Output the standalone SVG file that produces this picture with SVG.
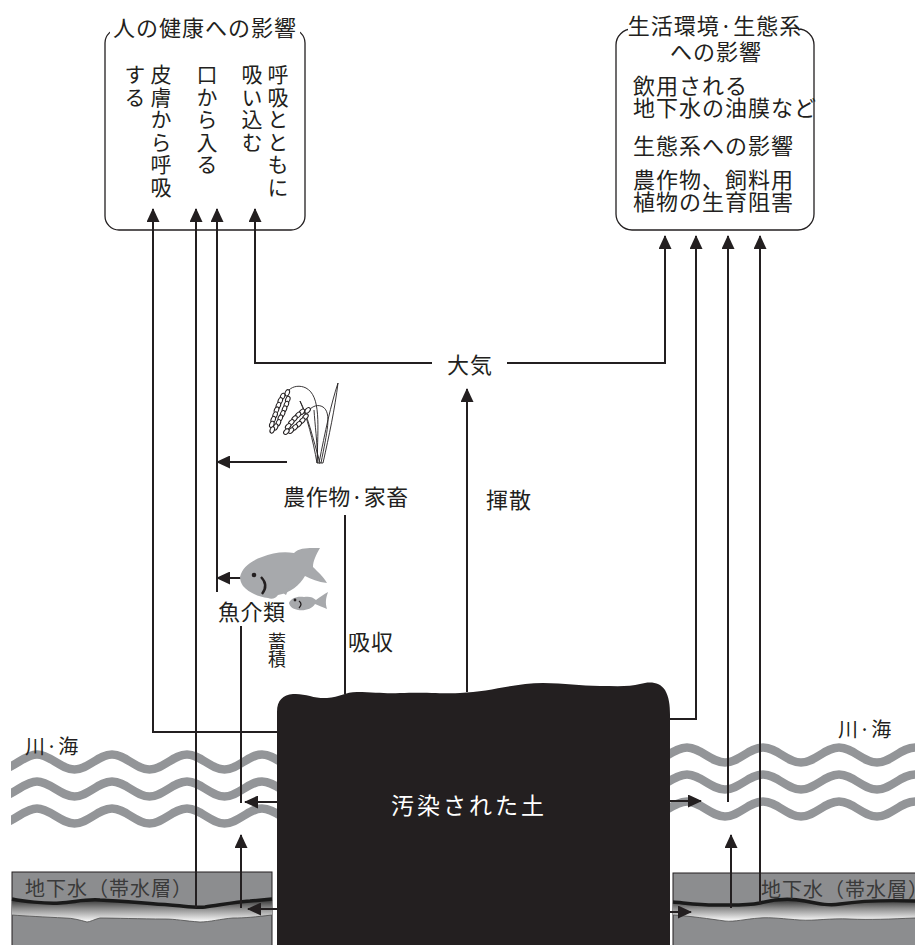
<svg xmlns="http://www.w3.org/2000/svg" width="915" height="945" viewBox="0 0 915 945">
  <style>
    text { font-family: "Noto Sans CJK JP", "Noto Sans", sans-serif; fill: #231f20; }
    .lbl { font-size: 22px; letter-spacing: 1px; }
    .vert { font-size: 21px; letter-spacing: 1.5px; writing-mode: vertical-rl; }
    .gw { font-size: 20px; fill: #3a3a3a; letter-spacing: 1px; }
    .box { fill: #fff; stroke: #231f20; stroke-width: 1.3; }
    .conn { fill: none; stroke: #231f20; stroke-width: 2; }
    .wave { fill: none; stroke: #939598; stroke-width: 8.5; }
    .aquifer { fill: #8c8d8f; stroke: #231f20; stroke-width: 1; }
    .fish { fill: #a7a9ac; }
  </style>
  <defs>
    <marker id="ah" viewBox="0 0 14 13" refX="13" refY="6.5" markerWidth="14" markerHeight="13" markerUnits="userSpaceOnUse" orient="auto">
      <path d="M0,0 L14,6.5 L0,13 z" fill="#231f20"/>
    </marker>
    <linearGradient id="band" x1="0" y1="0" x2="0" y2="1">
      <stop offset="0" stop-color="#2e2e2e"/>
      <stop offset="0.4" stop-color="#8a8a8a"/>
      <stop offset="1" stop-color="#ffffff"/>
    </linearGradient>
    <clipPath id="leftWater"><rect x="11" y="700" width="275" height="140"/></clipPath>
    <clipPath id="rightWater"><rect x="660" y="700" width="255" height="140"/></clipPath>
    <ellipse id="grain" rx="2.1" ry="3.3" fill="#fff" stroke="#231f20" stroke-width="1"/>
  </defs>

  <!-- river / sea waves -->
  <g id="river-left" clip-path="url(#leftWater)">
    <path class="wave" d="M-0.5,769.5 C13.2,769.5 23.8,754.5 37,754.5 S60.8,769.5 74.5,769.5 S98.3,754.5 112,754.5 S135.8,769.5 149.5,769.5 S173.3,754.5 187,754.5 S210.8,769.5 224.5,769.5 S248.3,754.5 262,754.5 S285.8,769.5 299.5,769.5"/>
    <path class="wave" d="M-0.5,796.5 C13.2,796.5 23.8,781.5 37,781.5 S60.8,796.5 74.5,796.5 S98.3,781.5 112,781.5 S135.8,796.5 149.5,796.5 S173.3,781.5 187,781.5 S210.8,796.5 224.5,796.5 S248.3,781.5 262,781.5 S285.8,796.5 299.5,796.5"/>
    <path class="wave" d="M-0.5,823.5 C13.2,823.5 23.8,808.5 37,808.5 S60.8,823.5 74.5,823.5 S98.3,808.5 112,808.5 S135.8,823.5 149.5,823.5 S173.3,808.5 187,808.5 S210.8,823.5 224.5,823.5 S248.3,808.5 262,808.5 S285.8,823.5 299.5,823.5"/>
  </g>
  <g id="river-right" clip-path="url(#rightWater)">
    <path class="wave" d="M649,762.5 C662.7,762.5 673.3,747.5 687,747.5 S710.8,762.5 725,762.5 S748.8,747.5 763,747.5 S786.8,762.5 801,762.5 S824.8,747.5 839,747.5 S862.8,762.5 877,762.5 S900.8,747.5 915,747.5 S938.8,762.5 953,762.5"/>
    <path class="wave" d="M649,789.5 C662.7,789.5 673.3,774.5 687,774.5 S710.8,789.5 725,789.5 S748.8,774.5 763,774.5 S786.8,789.5 801,789.5 S824.8,774.5 839,774.5 S862.8,789.5 877,789.5 S900.8,774.5 915,774.5 S938.8,789.5 953,789.5"/>
    <path class="wave" d="M649,816.5 C662.7,816.5 673.3,801.5 687,801.5 S710.8,816.5 725,816.5 S748.8,801.5 763,801.5 S786.8,816.5 801,816.5 S824.8,801.5 839,801.5 S862.8,816.5 877,816.5 S900.8,801.5 915,801.5 S938.8,816.5 953,816.5"/>
  </g>
  <text x="25" y="754" class="gw" style="fill:#231f20">川·海</text>
  <text x="838" y="737" class="gw" style="fill:#231f20">川·海</text>

  <!-- groundwater (aquifer) -->
  <g id="aquifer-left">
    <rect class="aquifer" x="12" y="872" width="260" height="80"/>
    <path fill="url(#band)" d="M12,899 C22,901 45,904 60,903 C75,902 85,899 100,900 C125,901 150,904 170,905 C185,906 195,908 205,907 C220,905 235,902 250,901 L272,899 L272,915 C255,917 245,918 233,918 C220,919 210,922 200,922 C185,921 175,919 165,919 C140,919 115,918 100,918 C95,919 90,922 87,922 C80,920 72,918 65,918 C45,917 25,916 12,915 Z"/>
    <path fill="none" stroke="#1a1a1a" stroke-width="3.5" d="M12,899 C22,901 45,904 60,903 C75,902 85,899 100,900 C125,901 150,904 170,905 C185,906 195,908 205,907 C220,905 235,902 250,901 L272,899"/>
    <path fill="none" stroke="#4a4a4a" stroke-width="0.8" d="M12,915 C25,916 45,917 65,918 C72,918 80,920 87,922 C90,922 95,919 100,918 C115,918 140,919 165,919 C175,919 185,921 200,922 C210,922 220,919 233,918 C245,918 255,917 272,915"/>
    <text x="25" y="896" class="gw">地下水（帯水層）</text>
  </g>
  <g id="aquifer-right">
    <rect class="aquifer" x="673" y="873" width="250" height="80"/>
    <path fill="url(#band)" d="M673,902 C685,903 700,905 715,905 C730,905 745,906 760,903 C775,899 790,898 805,901 C820,904 830,906 840,904 C860,901 885,900 915,901 L915,918 C890,919 870,920 850,919 C830,918 815,921 800,920 C785,919 770,917 760,918 C745,919 735,922 725,921 C710,919 690,916 673,915 Z"/>
    <path fill="none" stroke="#1a1a1a" stroke-width="3.5" d="M673,902 C685,903 700,905 715,905 C730,905 745,906 760,903 C775,899 790,898 805,901 C820,904 830,906 840,904 C860,901 885,900 915,901"/>
    <path fill="none" stroke="#4a4a4a" stroke-width="0.8" d="M673,915 C690,916 710,919 725,921 C735,922 745,919 760,918 C770,917 785,919 800,920 C815,921 830,918 850,919 C870,920 890,919 915,918"/>
    <text x="761" y="897" class="gw">地下水（帯水層）</text>
  </g>

  <!-- health effects box -->
  <g id="health">
    <rect class="box" x="105" y="29" width="200" height="201" rx="14"/>
    <rect x="110" y="18" width="190" height="20" fill="#fff"/>
    <text x="205" y="36" class="lbl" text-anchor="middle">人の健康への影響</text>
    <text x="278" y="64" class="vert">呼吸とともに</text>
    <text x="252" y="64" class="vert">吸い込む</text>
    <text x="207" y="64" class="vert">口から入る</text>
    <text x="161" y="64" class="vert">皮膚から呼吸</text>
    <text x="135" y="64" class="vert">する</text>
  </g>

  <!-- living environment / ecosystem box -->
  <g id="environment">
    <rect class="box" x="616" y="29" width="198" height="201" rx="16"/>
    <rect x="628" y="16" width="172" height="20" fill="#fff"/>
    <text x="715" y="34" class="lbl" text-anchor="middle">生活環境·生態系</text>
    <text x="716" y="60" class="lbl" text-anchor="middle">への影響</text>
    <text x="633" y="94" class="lbl">飲用される</text>
    <text x="633" y="116" class="lbl">地下水の油膜など</text>
    <text x="633" y="154" class="lbl">生態系への影響</text>
    <text x="633" y="188" class="lbl">農作物、飼料用</text>
    <text x="633" y="210" class="lbl">植物の生育阻害</text>
  </g>

  <!-- pathways -->
  <g id="connectors">
    <path class="conn" d="M280,732 H153 V209" marker-end="url(#ah)"/>
    <path class="conn" d="M196,908 V209" marker-end="url(#ah)"/>
    <path class="conn" d="M217,592 V209" marker-end="url(#ah)"/>
    <path class="conn" d="M432,363 H255 V209" marker-end="url(#ah)"/>
    <path class="conn" d="M507,363 H665 V236" marker-end="url(#ah)"/>
    <path class="conn" d="M467,692 V389" marker-end="url(#ah)"/>
    <path class="conn" d="M287,462 H217" marker-end="url(#ah)"/>
    <path class="conn" d="M242,578 H217" marker-end="url(#ah)"/>
    <path class="conn" d="M241,626 V803"/>
    <path class="conn" d="M277,802 H245" marker-end="url(#ah)"/>
    <path class="conn" d="M241,908 V835" marker-end="url(#ah)"/>
    <path class="conn" d="M277,909 H248" marker-end="url(#ah)"/>
    <path class="conn" d="M345,694 V515"/>
    <path class="conn" d="M668,719 H696 V236" marker-end="url(#ah)"/>
    <path class="conn" d="M728,802 V236" marker-end="url(#ah)"/>
    <path class="conn" d="M760,904 V236" marker-end="url(#ah)"/>
    <path class="conn" d="M731,908 V835" marker-end="url(#ah)"/>
    <path class="conn" d="M670,801 H701" marker-end="url(#ah)"/>
    <path class="conn" d="M670,912 H691" marker-end="url(#ah)"/>
  </g>

  <!-- contaminated soil -->
  <g id="soil">
    <path fill="#231f20" d="M277,945 L277,712 C277,700 283,695 293,694 C305,693 315,699 327,698 C340,697 345,692 357,692 C375,692 385,694 400,693 C430,692 445,694 460,693 C490,692 515,683 543,683 C565,683 580,686 600,686 C615,686 630,687 640,684 C650,681 660,682 665,690 C669,697 670,705 670,715 L670,945 Z"/>
    <text x="469" y="814" text-anchor="middle" style="fill:#fff;font-size:23px;letter-spacing:3px">汚染された土</text>
  </g>

  <!-- atmosphere -->
  <g id="air">
    <text x="470" y="373" class="lbl" text-anchor="middle">大気</text>
    <text x="486" y="508" class="lbl">揮散</text>
  </g>

  <!-- crops and livestock -->
  <g id="crops">
    <g fill="#fff" stroke="#231f20" stroke-width="0.9">
      <path d="M319,463 C325,432 331,404 338,383 C335,408 329,436 323,463 Z"/>
      <path d="M317,463 C313,440 307,417 300,401 C307,414 313,438 320,463 Z"/>
      <path d="M318,463 C317,440 315,425 314,410" fill="none"/>
      <path d="M317,463 C318,425 321,396 306,388 C300,385 293,386 289,390" fill="none"/>
      <path d="M321,463 C327,432 332,413 323,407 C318,404 313,406 309,410" fill="none"/>
    </g>
    <g transform="translate(288,391) rotate(22)">
      <use href="#grain" x="0" y="2"/>
      <use href="#grain" x="-3" y="7"/><use href="#grain" x="3" y="8"/>
      <use href="#grain" x="-3.5" y="12"/><use href="#grain" x="3.5" y="13"/>
      <use href="#grain" x="-3.5" y="17"/><use href="#grain" x="3.5" y="18"/>
      <use href="#grain" x="-3.5" y="22"/><use href="#grain" x="3.5" y="23"/>
      <use href="#grain" x="-3" y="27"/><use href="#grain" x="3" y="28"/>
      <use href="#grain" x="-3" y="32"/><use href="#grain" x="3" y="33"/>
      <use href="#grain" x="-2.5" y="37"/><use href="#grain" x="2" y="38"/>
      <use href="#grain" x="0" y="42"/>
    </g>
    <g transform="translate(309,409) rotate(45)">
      <use href="#grain" x="0" y="2"/>
      <use href="#grain" x="-3" y="7"/><use href="#grain" x="3" y="8"/>
      <use href="#grain" x="-3.5" y="12"/><use href="#grain" x="3.5" y="13"/>
      <use href="#grain" x="-3.5" y="17"/><use href="#grain" x="3.5" y="18"/>
      <use href="#grain" x="-3" y="22"/><use href="#grain" x="3" y="23"/>
      <use href="#grain" x="-2.5" y="27"/><use href="#grain" x="2.5" y="28"/>
      <use href="#grain" x="0" y="32"/>
    </g>
    <text x="346" y="505" class="lbl" text-anchor="middle" style="letter-spacing:0.5px">農作物·家畜</text>
    <text x="348" y="650" class="lbl">吸収</text>
  </g>

  <!-- fish and shellfish -->
  <g id="fish">
    <path class="fish" d="M240,577 C242,568 250,561 262,557 C272,553 283,551 294,553 C300,547 310,548 320,548 C316,555 313,561 313,567 C318,572 323,576 327,583 C318,582 311,579 305,576 C300,585 290,593 278,595 C276,598 272,600 268,598 C258,597 248,592 243,586 C241,583 240,580 240,577 Z"/>
    <circle cx="254" cy="575" r="2.3" fill="#231f20"/>
    <path d="M261,577 Q269,585 262,594" fill="none" stroke="#231f20" stroke-width="2.4"/>
    <path class="fish" d="M289,603 C291,598 297,596 304,597 C309,596 313,597 316,600 C320,597 324,594 328,592 C326,598 325,602 327,609 C322,607 318,605 315,604 C312,609 305,611 298,610 C293,609 290,607 289,603 Z"/>
    <path class="fish" d="M280,591 L289,588 L286,595 Z"/>
    <circle cx="295" cy="600" r="1.4" fill="#231f20"/>
    <path d="M299,601 Q303,604 299,608" fill="none" stroke="#231f20" stroke-width="1.3"/>
    <text x="218" y="620" class="lbl" style="letter-spacing:0.5px">魚介類</text>
    <text x="268" y="648" style="font-size:18px">蓄</text>
    <text x="268" y="666" style="font-size:18px">積</text>
  </g>
</svg>
